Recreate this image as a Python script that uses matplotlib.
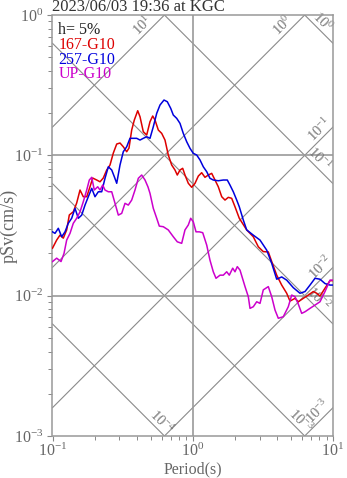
"""Pseudo-velocity response spectrum (tripartite plot) for the KGC record."""

import numpy as np
import matplotlib

matplotlib.use("Agg")
import matplotlib.pyplot as plt  # noqa: E402
from matplotlib.ticker import LogLocator, NullFormatter  # noqa: E402

plt.rcParams["font.family"] = ["Liberation Serif", "DejaVu Serif"]
plt.rcParams["mathtext.fontset"] = "custom"
plt.rcParams["mathtext.rm"] = "Liberation Serif"
plt.rcParams["mathtext.it"] = "Liberation Serif:italic"
plt.rcParams["mathtext.bf"] = "Liberation Serif:bold"

TITLE = "2023/06/03 19:36 at KGC"
DAMPING = "h= 5%"
COMPONENTS = ["167-G10", "257-G10", "UP-G10"]

# --- period (s) and pSv (cm/s) ---
period_167 = [0.100, 0.1071, 0.1131, 0.1194, 0.1262, 0.1318, 0.1407, 0.1487, 0.1571, 0.1658,
              0.1754, 0.1851, 0.1935, 0.2066, 0.2182, 0.2302, 0.2435, 0.2570, 0.2714, 0.2870,
              0.3029, 0.3197, 0.3381, 0.3511, 0.3670, 0.3831, 0.4051, 0.4207, 0.4440, 0.4695,
              0.4956, 0.5182, 0.5381, 0.5681, 0.6006, 0.6340, 0.6693, 0.7077, 0.7470, 0.7757,
              0.8110, 0.8477, 0.8803, 0.9297, 0.9829, 1.038, 1.096, 1.158, 1.222, 1.291,
              1.365, 1.441, 1.521, 1.609, 1.698, 1.793, 1.895, 2.001, 2.147, 2.425,
              2.702, 2.934, 3.184, 3.457, 3.656, 3.968, 4.307, 4.676, 4.936, 5.360,
              5.657, 6.140, 6.667, 7.237, 7.653, 8.078, 8.768, 9.519, 10.0]
psv_167 = [0.0218, 0.0249, 0.0270, 0.0257, 0.0294, 0.0376, 0.0396, 0.0457, 0.0566, 0.0507,
           0.0507, 0.0597, 0.0689, 0.0667, 0.0648, 0.0689, 0.0786, 0.0853, 0.1038, 0.1204,
           0.1224, 0.1151, 0.1061, 0.1127, 0.1515, 0.1785, 0.2079, 0.1884, 0.1473, 0.1395,
           0.1736, 0.1906, 0.1785, 0.1515, 0.1434, 0.1285, 0.1005, 0.0853, 0.0786, 0.0724,
           0.0786, 0.0808, 0.0724, 0.0632, 0.0592, 0.0632, 0.0712, 0.0752, 0.0697, 0.0724,
           0.0744, 0.0667, 0.0597, 0.0507, 0.0480, 0.0502, 0.0494, 0.0430, 0.0356, 0.0294,
           0.0263, 0.0223, 0.0206, 0.0205, 0.0175, 0.0140, 0.0119, 0.0104, 0.00915, 0.00957,
           0.00905, 0.00957, 0.0101, 0.0107, 0.0104, 0.00993, 0.0113, 0.0128, 0.0128]

period_257 = [0.100, 0.1042, 0.1100, 0.1163, 0.1228, 0.1296, 0.1370, 0.1447, 0.1528, 0.1615,
              0.1705, 0.1800, 0.1904, 0.2009, 0.2122, 0.2243, 0.2368, 0.2501, 0.2644, 0.2759,
              0.2870, 0.3029, 0.3197, 0.3381, 0.3569, 0.3769, 0.3985, 0.4207, 0.4440, 0.4695,
              0.4956, 0.5233, 0.5534, 0.5842, 0.6237, 0.6585, 0.6963, 0.7266, 0.7684, 0.8110,
              0.8560, 0.9054, 0.9559, 1.009, 1.067, 1.127, 1.189, 1.258, 1.327, 1.401,
              1.521, 1.652, 1.763, 1.843, 1.946, 2.058, 2.147, 2.293, 2.425, 2.702,
              3.017, 3.368, 3.656, 3.968, 4.307, 4.676, 5.212, 5.817, 6.316, 6.855,
              7.444, 8.078, 8.768, 9.519, 10.0]
psv_257 = [0.0285, 0.0278, 0.0302, 0.0263, 0.0285, 0.0328, 0.0356, 0.0419, 0.0356, 0.0375,
           0.0442, 0.0507, 0.0582, 0.0507, 0.0550, 0.0550, 0.0686, 0.0829, 0.0786, 0.0704,
           0.0632, 0.0853, 0.1061, 0.1151, 0.1322, 0.1322, 0.1322, 0.1285, 0.1322, 0.1357,
           0.1322, 0.1599, 0.1992, 0.2284, 0.2478, 0.2410, 0.2163, 0.1937, 0.1835, 0.1690,
           0.1434, 0.1250, 0.1122, 0.1033, 0.1005, 0.0926, 0.0829, 0.0764, 0.0686, 0.0667,
           0.0659, 0.0667, 0.0667, 0.0614, 0.0550, 0.0480, 0.0430, 0.0346, 0.0294, 0.0270,
           0.0249, 0.0211, 0.0170, 0.0131, 0.0136, 0.0129, 0.0114, 0.0104, 0.0107, 0.0119,
           0.0133, 0.0131, 0.0122, 0.0119, 0.0119]

period_up = [0.100, 0.1071, 0.1150, 0.1208, 0.1262, 0.1333, 0.1407, 0.1487, 0.1571, 0.1658,
             0.1754, 0.1830, 0.1904, 0.1986, 0.2101, 0.2182, 0.2280, 0.2368, 0.2501, 0.2644,
             0.2791, 0.2947, 0.3115, 0.3288, 0.3472, 0.3670, 0.3875, 0.4092, 0.4325, 0.4567,
             0.4797, 0.4956, 0.5233, 0.5534, 0.5775, 0.6166, 0.6693, 0.7266, 0.7757, 0.8338,
             0.8803, 0.9297, 0.9670, 1.009, 1.055, 1.114, 1.178, 1.258, 1.327, 1.401,
             1.465, 1.565, 1.652, 1.746, 1.822, 1.927, 2.001, 2.078, 2.173, 2.359,
             2.490, 2.560, 2.702, 2.858, 3.017, 3.184, 3.457, 3.656, 3.859, 4.074,
             4.422, 4.800, 5.076, 5.360, 5.657, 5.982, 6.316, 6.855, 7.444, 8.078,
             8.768, 9.519, 10.0]
psv_up = [0.0175, 0.0185, 0.0175, 0.0200, 0.0249, 0.0278, 0.0328, 0.0356, 0.0396, 0.0467,
          0.0566, 0.0667, 0.0697, 0.0566, 0.0597, 0.0566, 0.0614, 0.0566, 0.0550, 0.0550,
          0.0455, 0.0375, 0.0386, 0.0455, 0.0442, 0.0480, 0.0566, 0.0686, 0.0724, 0.0667,
          0.0595, 0.0536, 0.0419, 0.0356, 0.0313, 0.0310, 0.0294, 0.0263, 0.0242, 0.0236,
          0.0294, 0.0319, 0.0356, 0.0336, 0.0285, 0.0285, 0.0281, 0.0229, 0.0179, 0.0148,
          0.0133, 0.0140, 0.0140, 0.0148, 0.0140, 0.0157, 0.0148, 0.0161, 0.0152, 0.0116,
          0.00983, 0.00812, 0.00834, 0.00905, 0.00881, 0.0110, 0.0116, 0.00983, 0.00790, 0.00690,
          0.00708, 0.00834, 0.0101, 0.00983, 0.00871, 0.00748, 0.00768, 0.00812, 0.00857, 0.00905,
          0.0107, 0.0129, 0.0129]

SERIES_COLORS = ["#dd0000", "#0000dd", "#cc00cc"]

# tripartite guide lines: pseudo-acceleration (cm/s^2) and displacement (cm)
ACC_LEVELS = [1e-3, 1e-2, 1e-1, 1.0, 10.0]
DISP_LEVELS = [1e-4, 1e-3, 1e-2, 1e-1, 1.0]
# (kind, level, period where label sits, label)
GUIDE_LABELS = [
    ("acc", 10.0, 0.480, "10$^{1}$"),
    ("acc", 1.0, 4.83, "10$^{0}$"),
    ("disp", 1.0, 7.63, "10$^{0}$"),
    ("acc", 0.1, 8.77, "10$^{-1}$"),
    ("disp", 0.1, 7.31, "10$^{-1}$"),
    ("acc", 0.01, 9.02, "10$^{-2}$"),
    ("disp", 0.01, 7.19, "10$^{-2}$"),
    ("disp", 1e-4, 0.547, "10$^{-4}$"),
    ("disp", 1e-3, 5.38, "10$^{-3}$"),
    ("acc", 1e-3, 8.59, "10$^{-3}$"),
]

GUIDE_COLOR = "#8a8a8a"
GRID_COLOR = "#9a9a9a"
TEXT_GRAY = "#666666"

fig = plt.figure(figsize=(3.47, 4.78), dpi=100)
ax = fig.add_axes([52.5 / 347, 1 - 436 / 478, 280.5 / 347, 421 / 478])
ax.set_xscale("log")
ax.set_yscale("log")
ax.set_xlim(0.1, 10)
ax.set_ylim(1e-3, 1)

t_span = np.array([0.1, 10.0])
for a in ACC_LEVELS:
    ax.plot(t_span, a * t_span / (2 * np.pi), color=GUIDE_COLOR, lw=0.8, zorder=1)
for d in DISP_LEVELS:
    ax.plot(t_span, 2 * np.pi * d / t_span, color=GUIDE_COLOR, lw=0.8, zorder=1)

for kind, level, t, label in GUIDE_LABELS:
    if kind == "acc":
        y, rot = level * t / (2 * np.pi), 45
    else:
        y, rot = 2 * np.pi * level / t, -45
    ax.text(t, y, label, rotation=rot, rotation_mode="anchor", ha="center",
            va="bottom", fontsize=10.5, color="#777777", zorder=2)

ax.axvline(1.0, color=GRID_COLOR, lw=1.2, zorder=1)
for level in (0.1, 0.01):
    ax.axhline(level, color=GRID_COLOR, lw=1.2, zorder=1)

series = [(period_167, psv_167), (period_257, psv_257), (period_up, psv_up)]
for (per, psv), color in zip(series, SERIES_COLORS):
    ax.plot(per, psv, color=color, lw=1.1, zorder=3)

ax.text(0.021, 0.954, DAMPING, transform=ax.transAxes, fontsize=11.5,
        color="#222222", va="baseline")
for i, (name, color) in enumerate(zip(COMPONENTS, SERIES_COLORS)):
    ax.text(0.021, 0.919 - i * 0.0348, name, transform=ax.transAxes,
            fontsize=11.5, color=color, va="baseline")

for side in ax.spines.values():
    side.set_color("#999999")
    side.set_linewidth(1.1)

ax.xaxis.set_minor_locator(LogLocator(base=10, subs=np.arange(2, 10)))
ax.yaxis.set_minor_locator(LogLocator(base=10, subs=np.arange(2, 10)))
ax.xaxis.set_minor_formatter(NullFormatter())
ax.yaxis.set_minor_formatter(NullFormatter())
ax.tick_params(which="major", length=3.6, width=0.8, color="#888888",
               labelcolor=TEXT_GRAY, labelsize=11.5)
ax.tick_params(axis="y", which="major", pad=3)
ax.tick_params(axis="x", which="major", pad=1)
ax.tick_params(which="minor", length=2.8, width=0.7, color="#888888")

ax.set_xlabel("Period(s)", fontsize=11.5, color=TEXT_GRAY)
ax.set_ylabel("pSv(cm/s)", fontsize=13, color=TEXT_GRAY)
ax.xaxis.set_label_coords(0.5, -0.061)
ax.yaxis.set_label_coords(-0.125, 0.5)

fig.text(52.5 / 347, 1 - 11 / 478, TITLE, fontsize=12, color="#333333",
         ha="left", va="baseline")

fig.savefig("out.png", dpi=100)
plt.close(fig)
